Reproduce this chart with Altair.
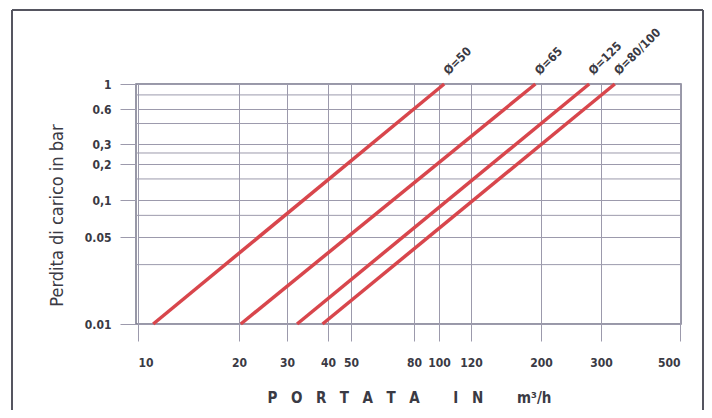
import altair as alt
import pandas as pd

# ---- data ----
series = ["Ø=50", "Ø=65", "Ø=125", "Ø=80/100"]
flow_low = [11.1, 20.3, 32.2, 38.5]      # m3/h at 0.01 bar
flow_high = [103, 192, 277, 328]         # m3/h at 1 bar
loss_low = [0.01, 0.01, 0.01, 0.01]
loss_high = [1, 1, 1, 1]

x_ticks = [10, 20, 30, 40, 50, 80, 100, 120, 200, 300, 500]
y_ticks = [0.01, 0.05, 0.1, 0.2, 0.3, 0.6, 1]
y_tick_text = ["0.01", "0.05", "0,1", "0,2", "0,3", "0.6", "1"]
y_minor = [0.8, 0.45, 0.25, 0.15, 0.075, 0.03]

# hand-drawn (non-uniform) scale positions of the printed chart
W, H = 545, 240
x_pos = [2, 103, 151, 192, 215, 278, 303, 335, 405, 465, 544]
y_pos = [240, 153, 116, 80, 60, 25, 0]

rows = []
for s, a, b, c, d in zip(series, flow_low, flow_high, loss_low, loss_high):
    rows.append({"serie": s, "q": a, "p": c, "end": 0})
    rows.append({"serie": s, "q": b, "p": d, "end": 1})
df = pd.DataFrame(rows)
lab = df[df["end"] == 1]

FONT = "Liberation Sans Narrow, DejaVu Sans Condensed, Roboto Condensed, Liberation Sans, sans-serif"
INK = "#3a3a44"
GRID = "#9c9aac"
RED = "#d8464c"

xs = alt.Scale(type="log", domain=x_ticks, range=x_pos)
ys = alt.Scale(type="log", domain=y_ticks, range=y_pos)

label_expr = " : ".join(
    f"datum.value=={v} ? '{t}'" for v, t in zip(y_ticks[:-1], y_tick_text[:-1])
) + f" : '{y_tick_text[-1]}'"

base = alt.Chart(df)

lines = base.mark_line(color=RED, strokeWidth=3.5, strokeCap="butt").encode(
    x=alt.X("q:Q", scale=xs,
            axis=alt.Axis(values=x_ticks, format="d", grid=True, gridColor=GRID, gridWidth=1,
                          tickSize=17, tickColor=GRID, domain=False, labelPadding=16,
                          labelFont=FONT, labelFontSize=12, labelFontWeight="bold", labelColor=INK,
                          title="P\u2003O\u2003R\u2003T\u2003A\u2003T\u2003A\u2003\u2003\u2002I\u2003N\u2003\u2003\u2002m³/h",
                          titleFont=FONT, titleFontSize=15, titleFontWeight="bold", titleColor=INK,
                          titlePadding=22)),
    y=alt.Y("p:Q", scale=ys,
            axis=alt.Axis(values=y_ticks, labelExpr=label_expr, grid=True, gridColor=GRID, gridWidth=1,
                          tickSize=16, tickColor=GRID, domain=False, labelPadding=9,
                          labelFont=FONT, labelFontSize=12, labelFontWeight="bold", labelColor=INK,
                          title="Perdita di carico in bar", titleFont=FONT, titleFontSize=18,
                          titleFontWeight="normal", titleColor=INK, titlePadding=18, titleY=131)),
    detail="serie:N",
)

minor = alt.Chart(pd.DataFrame({"v": y_minor})).mark_rule(color=GRID, strokeWidth=1).encode(
    y=alt.Y("v:Q", scale=ys)
)

texts = alt.Chart(lab).mark_text(
    angle=315, align="left", baseline="alphabetic", dx=9, dy=-3,
    font=FONT, fontSize=12, fontWeight="bold", color=INK
).encode(x=alt.X("q:Q", scale=xs), y=alt.Y("p:Q", scale=ys), text="serie:N")

# outer frame of the printed figure
frame_l = alt.Chart(df).mark_rule(color="#555560", strokeWidth=2).encode(
    x=alt.value(-124), y=alt.value(-74), y2=alt.value(330))
frame_t = alt.Chart(df).mark_rule(color="#555560", strokeWidth=2).encode(
    x=alt.value(-124), x2=alt.value(567), y=alt.value(-74))
frame_r = alt.Chart(df).mark_rule(color="#555560", strokeWidth=2).encode(
    x=alt.value(567), y=alt.value(-74), y2=alt.value(330))

chart = alt.layer(minor, lines, texts, frame_l, frame_t, frame_r).properties(
    width=W, height=H,
    autosize=alt.AutoSizeParams(type="none"),
    padding={"left": 128, "top": 76, "right": 23, "bottom": 86},
    background="#ffffff",
).configure_view(stroke="#77778a", strokeWidth=1.5)

chart.save("out.html", embed_options={"renderer": "svg", "actions": False})
